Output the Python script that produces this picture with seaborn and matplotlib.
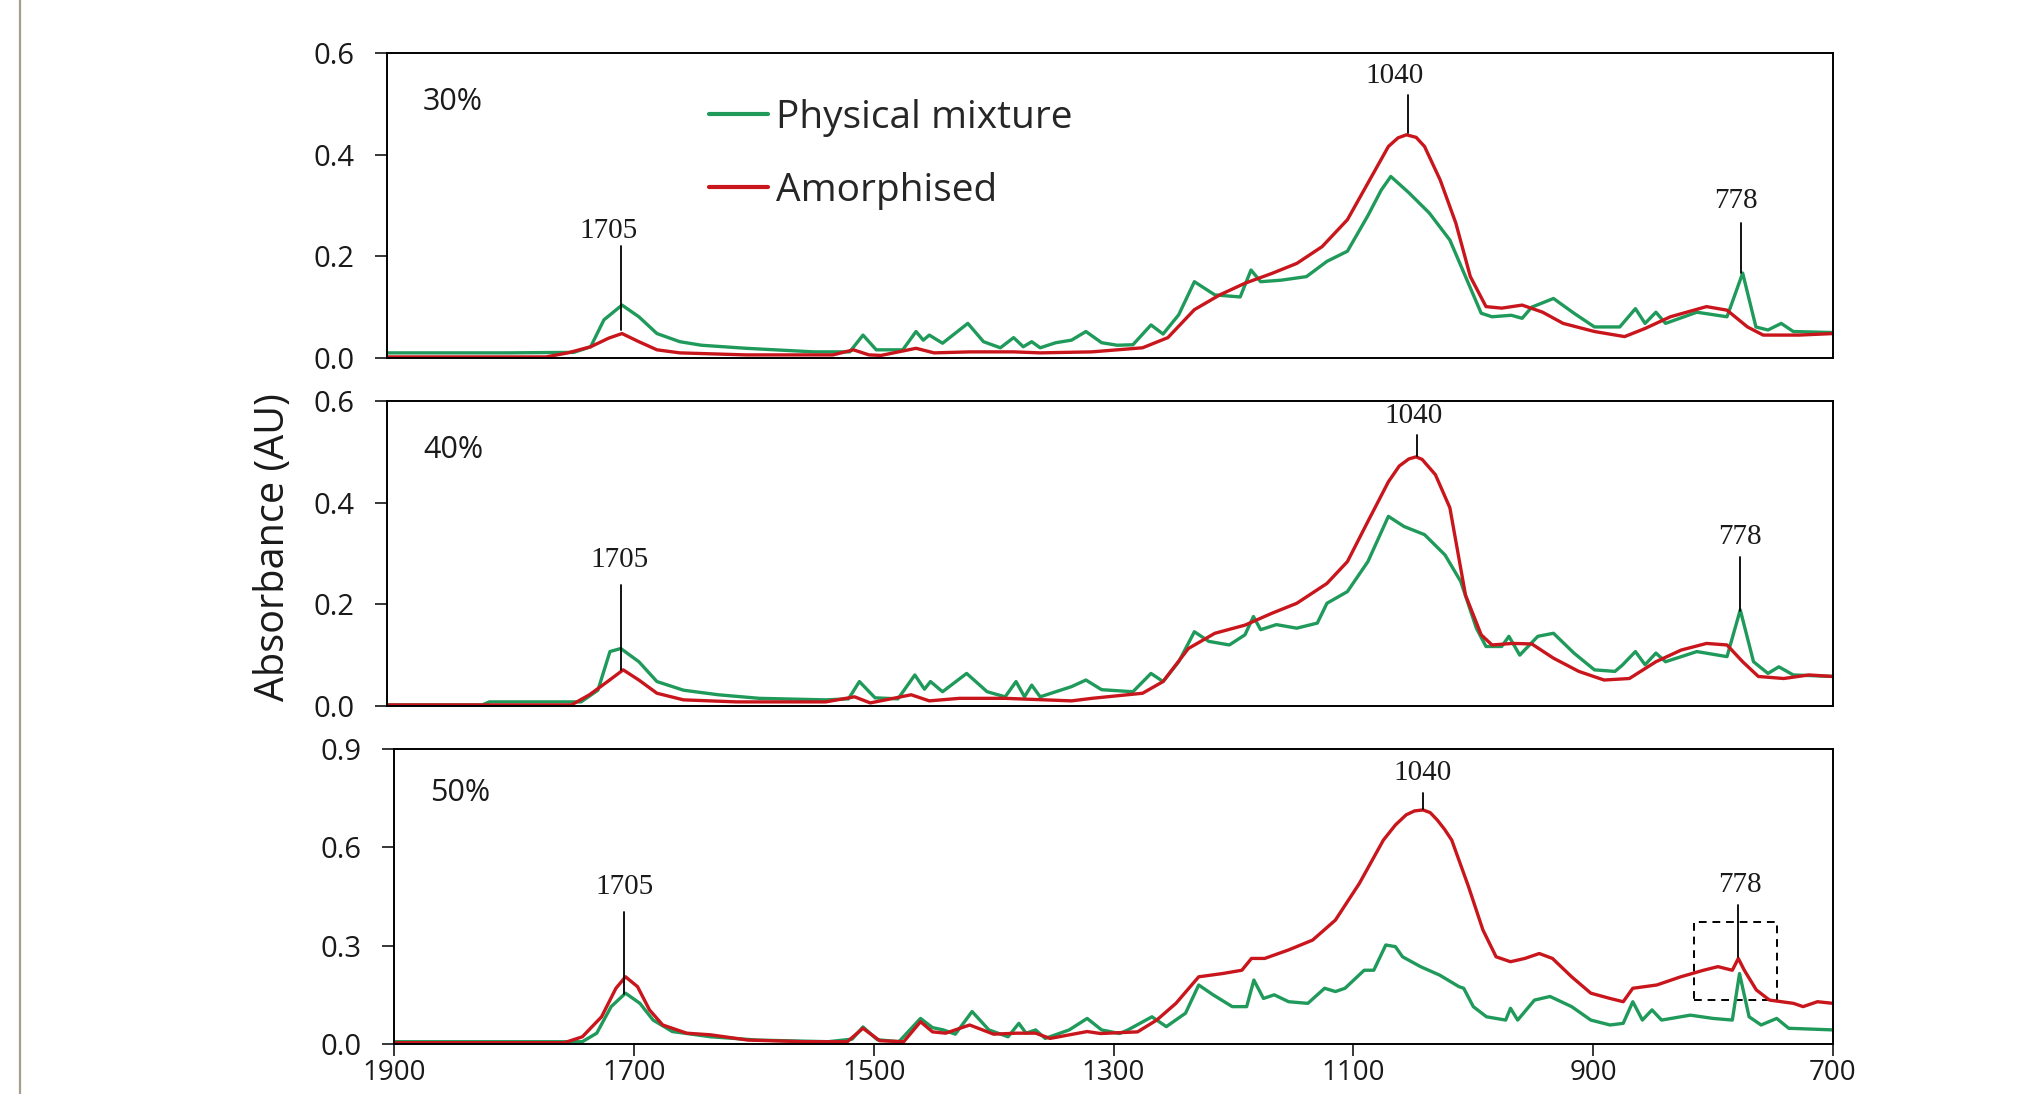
import numpy as np
import pandas as pd
import matplotlib
matplotlib.use("Agg")
import matplotlib.pyplot as plt
import seaborn as sns
from matplotlib.lines import Line2D
from matplotlib.patches import Rectangle

# ---------------- data ----------------
series_names = ["Physical mixture", "Amorphised"]
panel_labels = ["30%", "40%", "50%"]
x_ticks = [1900, 1700, 1500, 1300, 1100, 900, 700]

# 30 %
wn_30_pm = [1900, 1800, 1745, 1731, 1720, 1705, 1691, 1676, 1657, 1639, 1602, 1546, 1516, 1505, 1494,
            1472, 1461, 1455, 1450, 1439, 1418, 1405, 1391, 1380, 1372, 1365, 1358, 1345, 1332, 1320,
            1307, 1294, 1281, 1266, 1256, 1243, 1230, 1213, 1192, 1183, 1175, 1158, 1137, 1120, 1103,
            1086, 1075, 1067, 1052, 1035, 1018, 1005, 992, 983, 967, 958, 950, 932, 915, 898, 877,
            864, 856, 847, 839, 813, 788, 775, 764, 754, 743, 733, 700]
ab_30_pm = [0.010, 0.010, 0.011, 0.022, 0.075, 0.104, 0.081, 0.048, 0.032, 0.025, 0.019, 0.012, 0.012, 0.045, 0.016,
            0.016, 0.052, 0.035, 0.045, 0.029, 0.068, 0.032, 0.020, 0.040, 0.022, 0.032, 0.020, 0.030, 0.035, 0.052,
            0.030, 0.025, 0.026, 0.065, 0.047, 0.085, 0.150, 0.124, 0.120, 0.173, 0.150, 0.153, 0.160, 0.190, 0.210,
            0.280, 0.330, 0.357, 0.325, 0.285, 0.232, 0.160, 0.088, 0.081, 0.084, 0.078, 0.100, 0.117, 0.088, 0.061, 0.061,
            0.097, 0.068, 0.090, 0.068, 0.090, 0.081, 0.167, 0.061, 0.055, 0.068, 0.052, 0.050]
wn_30_am = [1900, 1768, 1750, 1731, 1716, 1705, 1691, 1676, 1657, 1602, 1530, 1513, 1500, 1490, 1461, 1446,
            1416, 1380, 1358, 1315, 1273, 1252, 1230, 1209, 1188, 1166, 1145, 1124, 1103, 1086, 1069, 1061, 1054,
            1046, 1039, 1026, 1013, 1001, 988, 975, 958, 941, 924, 898, 873, 856, 835, 805, 788, 771, 758, 728, 700]
ab_30_am = [0.002, 0.002, 0.010, 0.022, 0.039, 0.048, 0.032, 0.016, 0.010, 0.006, 0.006, 0.016, 0.006, 0.005, 0.019, 0.010,
            0.012, 0.012, 0.010, 0.012, 0.020, 0.040, 0.095, 0.124, 0.147, 0.166, 0.186, 0.219, 0.272, 0.344, 0.416, 0.433, 0.439,
            0.434, 0.416, 0.350, 0.265, 0.160, 0.101, 0.098, 0.104, 0.090, 0.068, 0.052, 0.042, 0.058, 0.081, 0.101, 0.094, 0.061, 0.045, 0.045, 0.048]

# 40 %
wn_40_pm = [1900, 1821, 1815, 1739, 1725, 1715, 1706, 1691, 1676, 1654, 1625, 1591, 1536, 1517, 1508, 1495,
            1476, 1462, 1454, 1449, 1439, 1419, 1402, 1387, 1378, 1371, 1365, 1358, 1332, 1320, 1307, 1281,
            1266, 1256, 1243, 1230, 1218, 1201, 1188, 1181, 1175, 1162, 1145, 1128, 1120, 1103, 1086, 1069,
            1056, 1039, 1022, 1009, 996, 988, 975, 969, 960, 945, 932, 915, 898, 881, 875, 864, 856, 847,
            839, 813, 788, 777, 766, 754, 745, 733, 700]
ab_40_pm = [0.002, 0.002, 0.008, 0.008, 0.031, 0.107, 0.113, 0.087, 0.048, 0.031, 0.022, 0.015, 0.012, 0.014, 0.048, 0.016,
            0.014, 0.061, 0.033, 0.048, 0.028, 0.064, 0.028, 0.018, 0.048, 0.018, 0.041, 0.018, 0.038, 0.051, 0.032, 0.028,
            0.064, 0.048, 0.087, 0.146, 0.127, 0.120, 0.140, 0.176, 0.150, 0.160, 0.153, 0.163, 0.202, 0.225, 0.284, 0.373,
            0.353, 0.337, 0.297, 0.245, 0.153, 0.117, 0.117, 0.137, 0.100, 0.137, 0.143, 0.104, 0.071, 0.068, 0.080, 0.107, 0.081, 0.104,
            0.087, 0.107, 0.097, 0.189, 0.087, 0.064, 0.077, 0.061, 0.058]
wn_40_am = [1900, 1747, 1732, 1717, 1704, 1691, 1676, 1654, 1610, 1536, 1512, 1499, 1465, 1450, 1425, 1387,
            1332, 1315, 1273, 1256, 1235, 1213, 1188, 1166, 1145, 1120, 1103, 1086, 1069, 1060, 1052, 1046, 1041, 1030,
            1018, 1005, 992, 983, 966, 950, 932, 911, 890, 869, 847, 826, 805, 788, 775, 762, 741, 720, 700]
ab_40_am = [0.002, 0.002, 0.022, 0.048, 0.071, 0.051, 0.025, 0.012, 0.008, 0.008, 0.018, 0.006, 0.022, 0.010, 0.015, 0.015,
            0.010, 0.015, 0.025, 0.048, 0.113, 0.143, 0.159, 0.182, 0.202, 0.241, 0.284, 0.363, 0.441, 0.472, 0.486, 0.490, 0.485, 0.455,
            0.390, 0.218, 0.140, 0.120, 0.123, 0.122, 0.094, 0.068, 0.051, 0.054, 0.087, 0.110, 0.123, 0.120, 0.087, 0.058, 0.054, 0.061, 0.058]

# 50 %
wn_50_pm = [1900, 1743, 1731, 1719, 1707, 1695, 1684, 1668, 1636, 1597, 1538, 1518, 1509, 1497, 1479, 1461,
            1451, 1442, 1432, 1418, 1404, 1388, 1379, 1373, 1365, 1357, 1337, 1322, 1310, 1295, 1288, 1268,
            1256, 1240, 1229, 1217, 1201, 1189, 1183, 1175, 1166, 1154, 1138, 1124, 1115, 1107, 1091, 1083,
            1073, 1065, 1059, 1044, 1028, 1012, 1008, 1000, 989, 973, 969, 963, 949, 936, 918, 902, 886,
            875, 867, 859, 851, 843, 819, 800, 784, 778, 770, 760, 747, 737, 700]
ab_50_pm = [0.007, 0.007, 0.033, 0.114, 0.155, 0.124, 0.073, 0.038, 0.022, 0.012, 0.007, 0.015, 0.052, 0.013, 0.007, 0.078,
            0.050, 0.043, 0.030, 0.099, 0.043, 0.022, 0.063, 0.033, 0.043, 0.017, 0.043, 0.078, 0.043, 0.032, 0.043, 0.083,
            0.053, 0.094, 0.180, 0.150, 0.114, 0.114, 0.195, 0.139, 0.150, 0.129, 0.124, 0.170, 0.160, 0.170, 0.225, 0.225,
            0.302, 0.297, 0.266, 0.236, 0.210, 0.175, 0.170, 0.114, 0.083, 0.073, 0.109, 0.073, 0.134, 0.145, 0.114, 0.073, 0.058,
            0.063, 0.129, 0.073, 0.104, 0.073, 0.088, 0.078, 0.073, 0.215, 0.083, 0.058, 0.078, 0.048, 0.043]
wn_50_am = [1900, 1758, 1743, 1727, 1715, 1707, 1697, 1687, 1676, 1656, 1636, 1605, 1558, 1522, 1509, 1495,
            1475, 1461, 1451, 1440, 1420, 1400, 1381, 1365, 1353, 1322, 1311, 1280, 1264, 1248, 1229, 1209,
            1193, 1185, 1174, 1154, 1134, 1115, 1095, 1075, 1065, 1056, 1049, 1042, 1036, 1030, 1024, 1018, 1004, 992, 981, 969,
            957, 945, 934, 918, 902, 886, 875, 867, 847, 827, 808, 796, 784, 779, 774, 764, 753, 733, 725, 713, 700]
ab_50_am = [0.004, 0.004, 0.022, 0.083, 0.170, 0.205, 0.175, 0.104, 0.058, 0.033, 0.028, 0.012, 0.007, 0.007, 0.048, 0.010,
            0.007, 0.068, 0.037, 0.033, 0.058, 0.030, 0.033, 0.033, 0.017, 0.038, 0.032, 0.037, 0.073, 0.124, 0.205, 0.215,
            0.225, 0.261, 0.261, 0.287, 0.317, 0.378, 0.490, 0.622, 0.668, 0.699, 0.711, 0.714, 0.706, 0.683, 0.655, 0.622, 0.480, 0.348, 0.266, 0.251,
            0.261, 0.276, 0.261, 0.205, 0.155, 0.139, 0.129, 0.170, 0.180, 0.205, 0.225, 0.236, 0.225, 0.261, 0.225, 0.165, 0.134, 0.124, 0.114, 0.129, 0.124]

# peak annotations: (label, line x, line y0, line y1, text x, text y)
ann_30 = [("1705", 1706, 0.055, 0.220, 1716, 0.249), ("1040", 1053, 0.442, 0.518, 1064, 0.554), ("778", 776, 0.168, 0.265, 781, 0.308)]
ann_40 = [("1705", 1706, 0.071, 0.238, 1707, 0.287), ("1040", 1045, 0.492, 0.534, 1048, 0.571), ("778", 777, 0.186, 0.294, 777, 0.333)]
ann_50 = [("1705", 1708, 0.154, 0.403, 1708, 0.480), ("1040", 1042, 0.716, 0.766, 1042, 0.827), ("778", 779, 0.266, 0.424, 778, 0.485)]

# ---------------- style ----------------
sns.set_style("ticks")
plt.rcParams["font.family"] = ["Open Sans", "DejaVu Sans"]

GREEN = "#1f9a5a"
RED = "#c8161c"
palette = {series_names[0]: GREEN, series_names[1]: RED}

fig = plt.figure(figsize=(20.21, 10.94), dpi=100)
ax1 = fig.add_axes([0.1915, 0.6728, 0.7155, 0.2788])
ax2 = fig.add_axes([0.1915, 0.3547, 0.7155, 0.2788])
ax3 = fig.add_axes([0.1950, 0.0457, 0.7120, 0.2697])

panels = [
    (ax1, wn_30_pm, ab_30_pm, wn_30_am, ab_30_am, ann_30, 0.6, [0, 0.2, 0.4, 0.6], 0.84),
    (ax2, wn_40_pm, ab_40_pm, wn_40_am, ab_40_am, ann_40, 0.6, [0, 0.2, 0.4, 0.6], 0.84),
    (ax3, wn_50_pm, ab_50_pm, wn_50_am, ab_50_am, ann_50, 0.9, [0, 0.3, 0.6, 0.9], 0.85),
]

for i, (ax, wpm, apm, wam, aam, ann, ymax, yt, lab_y) in enumerate(panels):
    df = pd.concat([
        pd.DataFrame({"wn": wpm, "ab": apm, "sample": series_names[0]}),
        pd.DataFrame({"wn": wam, "ab": aam, "sample": series_names[1]}),
    ], ignore_index=True)
    sns.lineplot(data=df, x="wn", y="ab", hue="sample", hue_order=series_names,
                 palette=palette, estimator=None, linewidth=2.4, ax=ax, legend=(i == 0))
    ax.set_xlim(1900, 700)
    ax.set_ylim(0, ymax)
    ax.set_yticks(yt)
    ax.set_yticklabels([f"{v:.1f}" for v in yt])
    ax.set_xlabel("")
    ax.set_ylabel("")
    for s in ax.spines.values():
        s.set_color("black")
        s.set_linewidth(1.4)
    ax.tick_params(axis="y", direction="out", length=8.6, width=1.1, labelsize=21,
                   pad=15, colors="black", labelcolor="#1a1a1a")
    if i < 2:
        ax.tick_params(axis="x", bottom=False, labelbottom=False)
    else:
        ax.set_xticks(x_ticks)
        ax.set_xticklabels([str(t) for t in x_ticks])
        ax.tick_params(axis="x", direction="out", length=8.6, width=1.1, labelsize=20,
                       pad=2, colors="black", labelcolor="#1a1a1a")
    ax.text(0.025, lab_y, panel_labels[i], transform=ax.transAxes, fontsize=22,
            ha="left", va="center", color="#1a1a1a")
    for lab, lx, y0, y1, tx, ty in ann:
        ax.plot([lx, lx], [y0, y1], color="black", lw=1.3)
        ax.text(tx, ty, lab, fontsize=21, family="Liberation Serif", ha="center",
                va="center", color="#1a1a1a")

# dashed box around the 778 band in the 50 % panel
ax3.add_patch(Rectangle((816, 0.134), 747 - 816, 0.373 - 0.134, fill=False,
                        edgecolor="black", linestyle=(0, (4, 3)), linewidth=1.4))

# legend
handles = [Line2D([0], [0], color=GREEN, lw=3), Line2D([0], [0], color=RED, lw=3)]
ax1.legend(handles, series_names, loc="center left", bbox_to_anchor=(0.223, 0.668),
           frameon=False, fontsize=28, handlelength=1.5, handletextpad=0.2,
           labelspacing=0.9, borderaxespad=0, borderpad=0)

# y-axis label
fig.text(0.1355, 0.5, "Absorbance (AU)", rotation=90, fontsize=28.5, ha="center",
         va="center", color="#1a1a1a")

# thin tan border line at far left
fig.add_artist(Line2D([0.0097, 0.0097], [0, 1], transform=fig.transFigure,
                      color="#a89c8b", lw=1.6))

fig.savefig("out.png", dpi=100)
